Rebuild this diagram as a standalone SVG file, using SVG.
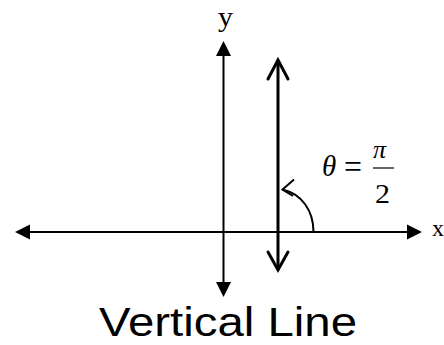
<svg xmlns="http://www.w3.org/2000/svg" width="444" height="345" viewBox="0 0 444 345">
<style>
.ax{stroke:#000;stroke-width:2;fill:none}
.vl{stroke:#000;stroke-width:3;fill:none;stroke-linecap:round;stroke-linejoin:miter}
.ah{fill:#000;stroke:none}
.serif{font-family:"Liberation Serif","Times New Roman",serif;fill:#000}
.sans{font-family:"Liberation Sans",Arial,sans-serif;fill:#000}
</style>
<rect width="444" height="345" fill="#fff"/>
<g id="connectors">
  <g id="x-axis">
    <line class="ax" x1="28" y1="232" x2="409" y2="232"/>
    <polygon class="ah" points="15,232 30,224.5 30,239.5"/>
    <polygon class="ah" points="422,232 407,224.5 407,239.5"/>
  </g>
  <g id="y-axis">
    <line class="ax" x1="223.5" y1="53" x2="223.5" y2="284"/>
    <polygon class="ah" points="223.5,41 216,56 231,56"/>
    <polygon class="ah" points="223.5,297 216,282 231,282"/>
  </g>
  <g id="vertical-line">
    <line class="vl" x1="278" y1="61" x2="278" y2="269"/>
    <polyline class="vl" points="268,79 278,60 288,79"/>
    <polyline class="vl" points="268,252 278,270 288,252"/>
  </g>
  <g id="angle-arc">
    <path class="ax" d="M313.5,232 C313.5,210 301,194 284,190"/>
    <polyline class="ax" points="294,179.5 282.5,189.5 293,196"/>
  </g>
</g>
<g id="label-y"><text class="serif" x="218" y="26" font-size="28" textLength="15" lengthAdjust="spacingAndGlyphs">y</text></g>
<g id="label-x"><text class="serif" x="432" y="236" font-size="24" textLength="12" lengthAdjust="spacingAndGlyphs">x</text></g>
<g id="label-theta">
  <text class="serif" x="322" y="176" font-size="29" font-style="italic">θ</text>
  <text class="serif" x="344" y="178" font-size="34" textLength="18" lengthAdjust="spacingAndGlyphs">=</text>
  <text class="serif" x="373" y="158" font-size="26" font-style="italic">π</text>
  <line x1="373" y1="168" x2="394" y2="168" stroke="#000" stroke-width="1.2"/>
  <text class="serif" x="375" y="203" font-size="27" textLength="15" lengthAdjust="spacingAndGlyphs">2</text>
</g>
<g id="title"><text class="sans" x="99" y="336" font-size="40" textLength="258" lengthAdjust="spacingAndGlyphs">Vertical Line</text></g>
</svg>
